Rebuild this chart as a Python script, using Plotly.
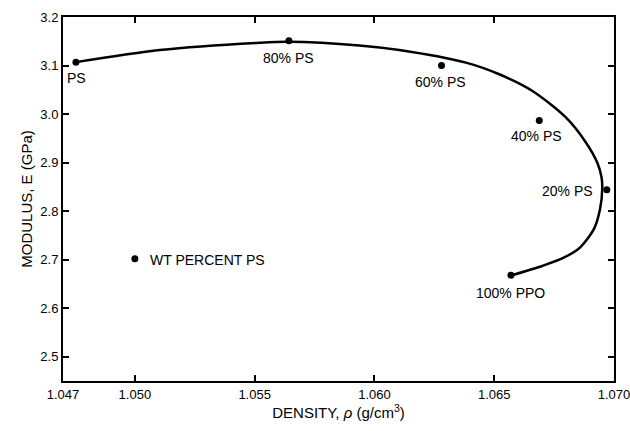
import plotly.graph_objects as go

# Measured blends: density (g/cm^3) and tensile modulus (GPa)
blend_labels = ["PS", "80% PS", "60% PS", "40% PS", "20% PS", "100% PPO"]
density = [1.04754, 1.05643, 1.06280, 1.06688, 1.06970, 1.06570]
modulus = [3.107, 3.151, 3.100, 2.987, 2.844, 2.668]

# Smooth trend curve through the blend series
curve_density = [1.04754, 1.05104, 1.05521, 1.05640, 1.05937, 1.06104, 1.06382,
                 1.06521, 1.06658, 1.06799, 1.06882, 1.06930, 1.06948, 1.06951,
                 1.06942, 1.06917, 1.06860, 1.06790, 1.06700, 1.06574]
curve_modulus = [3.107, 3.132, 3.147, 3.149, 3.1415, 3.132, 3.106,
                 3.082, 3.048, 2.993, 2.942, 2.900, 2.870, 2.846,
                 2.805, 2.764, 2.726, 2.704, 2.687, 2.668]

# Key marker
key_density = [1.0500]
key_modulus = [2.702]
key_text = "WT PERCENT PS"

x_ticks = [1.047, 1.050, 1.055, 1.060, 1.065, 1.070]
x_tick_text = ["1.047", "1.050", "1.055", "1.060", "1.065", "1.070"]
y_ticks = [2.5, 2.6, 2.7, 2.8, 2.9, 3.0, 3.1, 3.2]

FONT = "Liberation Sans, Arial, sans-serif"

fig = go.Figure()
fig.add_trace(go.Scatter(
    x=curve_density, y=curve_modulus, mode="lines",
    line=dict(color="black", width=2.5, shape="spline", smoothing=0.8),
    hoverinfo="skip", showlegend=False,
))
fig.add_trace(go.Scatter(
    x=density, y=modulus, mode="markers",
    marker=dict(color="black", size=7),
    showlegend=False,
))
fig.add_trace(go.Scatter(
    x=key_density, y=key_modulus, mode="markers",
    marker=dict(color="black", size=7),
    showlegend=False,
))

# Point labels: (xshift, yshift, xanchor) per blend
label_offsets = [(1, -16, "center"), (0, -17, "center"), (-1, -16, "center"),
                 (-3, -16, "center"), (-12, -1, "right"), (0, -18, "center")]
for lbl, xv, yv, (dx, dy, anc) in zip(blend_labels, density, modulus, label_offsets):
    fig.add_annotation(x=xv, y=yv, text=lbl, showarrow=False,
                       xshift=dx, yshift=dy, xanchor=anc, yanchor="middle",
                       font=dict(family=FONT, size=14, color="black"))
fig.add_annotation(x=key_density[0], y=key_modulus[0], text=key_text, showarrow=False,
                   xshift=13, yshift=-1, xanchor="left", yanchor="middle",
                   font=dict(family=FONT, size=14, color="black"))

axis_common = dict(
    showline=True, linecolor="black", linewidth=2, mirror="ticks",
    ticks="inside", ticklen=6, tickwidth=1.5, tickcolor="black",
    showgrid=False, zeroline=False, automargin=False,
    tickfont=dict(family=FONT, size=13, color="black"),
    ticklabeloverflow="allow",
)

fig.update_xaxes(range=[1.047, 1.070], tickvals=x_ticks, ticktext=x_tick_text,
                 title=dict(text="DENSITY, <i>ρ</i> (g/cm<sup>3</sup>)",
                            font=dict(family=FONT, size=15, color="black"), standoff=6),
                 **axis_common)
fig.update_yaxes(range=[2.45, 3.2], tickvals=y_ticks, tickformat=".1f",
                 title=dict(text="MODULUS, E (GPa)",
                            font=dict(family=FONT, size=15, color="black"), standoff=4),
                 **axis_common)

fig.update_layout(
    width=630, height=431,
    margin=dict(l=63, r=16, t=17, b=50),
    paper_bgcolor="white", plot_bgcolor="white",
)

fig.write_html("out.html")
